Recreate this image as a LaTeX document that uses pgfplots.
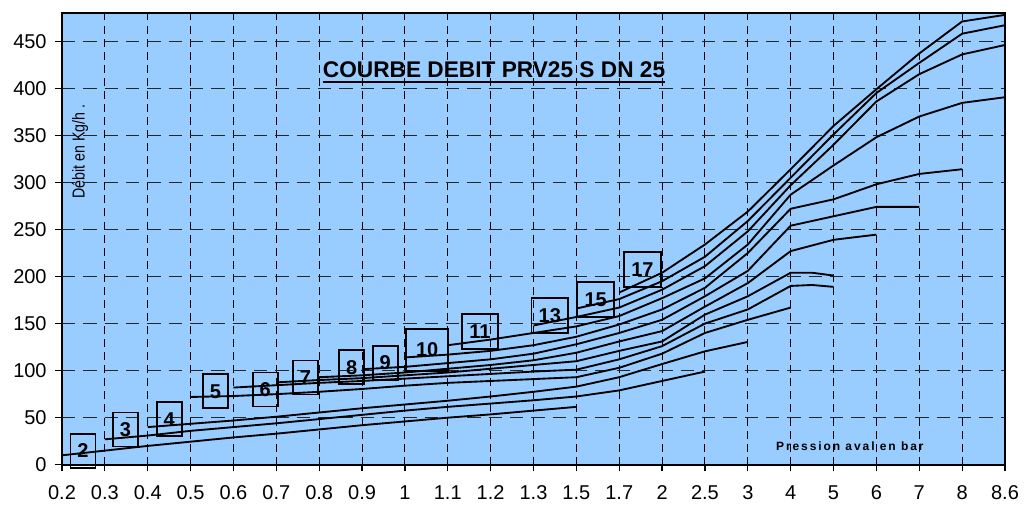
\documentclass[border=0pt]{standalone}
\usepackage{fontspec}
\setmainfont{Liberation Sans}
\newfontfamily\narrowfont[FakeStretch=0.82]{Liberation Sans}
\newfontfamily\spacedfont[LetterSpace=16]{Liberation Sans}
\usepackage{pgfplots}
\pgfplotsset{compat=1.18}
\definecolor{bgblue}{RGB}{153,204,255}
\tikzset{crv/.style={black, solid, line width=1.4pt, line join=round, mark=none}}
\begin{document}
\begin{tikzpicture}[x=1pt,y=1pt]
\begin{axis}[
  scale only axis,
  width=707.25pt, height=338.8pt,
  xmin=0, xmax=22, ymin=0, ymax=480,
  axis background/.style={fill=bgblue},
  axis line style={black, line width=1.4pt},
  xtick={0,...,22},
  xticklabels={0.2,0.3,0.4,0.5,0.6,0.7,0.8,0.9,1,1.1,1.2,1.3,1.5,1.7,2,2.5,3,4,5,6,7,8,8.6},
  ytick={0,50,...,450},
  yticklabels={0,50,100,150,200,250,300,350,400,450},
  tick align=outside,
  major tick length=5pt,
  tick style={black, line width=0.9pt},
  xtick pos=left, ytick pos=left,
  ticklabel style={font=\fontsize{15}{18}\selectfont},
  x tick label style={yshift=-7pt},
  y tick label style={xshift=-3pt},
  xmajorgrids, ymajorgrids,
  major x grid style={black, line width=0.8pt, dash pattern=on 6pt off 3.8pt},
  major y grid style={black!85, line width=0.8pt, dash pattern=on 10pt off 6pt},
  clip=false,
]
% curve 2
\addplot[crv] coordinates {(0,10) (1,15) (2,20) (3,24.5) (4,29) (5,33) (6,37.5) (7,42) (8,46) (9,50) (10,53.5) (11,57.5) (12,61.5)};
% curve 3
\addplot[crv] coordinates {(1,27) (2,31) (3,36) (4,40) (5,44) (6,48.5) (7,53) (8,57.5) (9,61.5) (10,65) (11,68.5) (12,72.5) (13,79) (14,89) (15,99)};
% curve 4
\addplot[crv] coordinates {(2,40) (3,43.5) (4,47) (5,51) (6,55.5) (7,60) (8,64) (9,68) (10,72.5) (11,77.5) (12,83) (13,93) (14,107) (15,120.5) (16,130.5)};
% curve 5
\addplot[crv] coordinates {(3,72) (4,73) (5,75) (6,77.5) (7,80.5) (8,84) (9,87) (10,89) (11,91) (12,93) (13,103) (14,118) (15,140) (16,154) (17,167)};
% curve 6
\addplot[crv] coordinates {(4,82) (5,84.5) (6,87) (7,89) (8,91.5) (9,94) (10,96.5) (11,99) (12,101) (13,112) (14,126) (15,150) (16,165) (17,190) (17.5,191) (18,189)};
% curve 7
\addplot[crv] coordinates {(5,87.5) (6,90) (7,92) (8,95) (9,98) (10,102) (11,106) (12,110) (13,121) (14,131) (15,159.5) (16,179) (17,204) (17.5,204) (18,201)};
% curve 8
\addplot[crv] coordinates {(6,93) (7,95) (8,98) (9,102) (10,106) (11,111) (12,119) (13,131) (14,142) (15,168) (16,193) (17,227) (18,239) (19,244.5)};
% curve 9
\addplot[crv] coordinates {(7,101.5) (8,104) (9,108) (10,112) (11,118) (12,128) (13,140) (14,154) (15,179) (16,206) (17,254) (18,264) (19,274) (20,274)};
% curve 10
\addplot[crv] coordinates {(8,114) (9,117) (10,121) (11,127) (12,136) (13,149) (14,165) (15,188) (16,225) (17,272) (18,282) (19,298) (20,309) (21,314)};
% curve 11
\addplot[crv] coordinates {(9,127) (10,133) (11,140) (12,147) (13,158) (14,177) (15,198) (16,234) (17,287) (18,318) (19,348) (20,370) (21,384.5) (22,390.5)};
% curve 13
\addplot[crv] coordinates {(11,148) (12,157) (13,167) (14,186) (15,211) (16,248) (17,297) (18,340) (19,386) (20,415) (21,436) (22,446)};
% curve 15
\addplot[crv] coordinates {(12,166) (13,176) (14,195) (15,221) (16,259) (17,305) (18,351) (19,395) (20,427) (21,458) (22,467)};
% curve 17
\addplot[crv] coordinates {(13,183) (14,204) (15,234) (16,269) (17,314) (18,360) (19,399) (20,437) (21,471) (22,478)};

% boxed labels
\tikzset{bx/.style={draw=black, line width=1.4pt, inner sep=0pt, minimum width=18.75pt, minimum height=25.5pt, font=\fontsize{15}{18}\selectfont\bfseries},
         bxw/.style={bx, minimum width=27.5pt, minimum height=26pt}}
\node[bx] at (axis cs:0.49,14.9) {2};
\node[bx] at (axis cs:1.48,37.5) {3};
\node[bx] at (axis cs:2.50,48.2) {4};
\node[bx] at (axis cs:3.58,77.9) {5};
\node[bx] at (axis cs:4.74,79.9) {6};
\node[bx] at (axis cs:5.68,92.7) {7};
\node[bx] at (axis cs:6.76,103.6) {8};
\node[bx] at (axis cs:7.54,108.1) {9};
\node[bx, minimum width=31.5pt, minimum height=31.5pt] at (axis cs:8.52,122.3) {10};
\node[bxw] at (axis cs:9.75,141.4) {11};
\node[bxw] at (axis cs:11.38,158.6) {13};
\node[bxw] at (axis cs:12.45,175.4) {15};
\node[bxw] at (axis cs:13.54,207.3) {17};

% title
\node[anchor=base, inner sep=0pt, font=\fontsize{17}{20}\selectfont\bfseries] (title) at (axis cs:10.08,411) {COURBE DEBIT PRV25 S DN 25};
\draw[line width=1.3pt] ([yshift=-3.3pt]title.base west) -- ([yshift=-3.3pt]title.base east);
% y label
\node[rotate=90, inner sep=0pt, font=\fontsize{13}{15}\narrowfont] at (axis cs:0.42,332.5) {Débit en Kg/h .};
% x label
\node[inner sep=0pt, font=\fontsize{9}{11}\spacedfont\bfseries] at (axis cs:18.38,20.2) {Pression aval en bar};
\end{axis}
\pgfresetboundingbox
\path (current axis.south west) ++(-46.5pt,-33.75pt) rectangle ([shift={(16.5pt,9.75pt)}]current axis.north east);
\end{tikzpicture}
\end{document}
